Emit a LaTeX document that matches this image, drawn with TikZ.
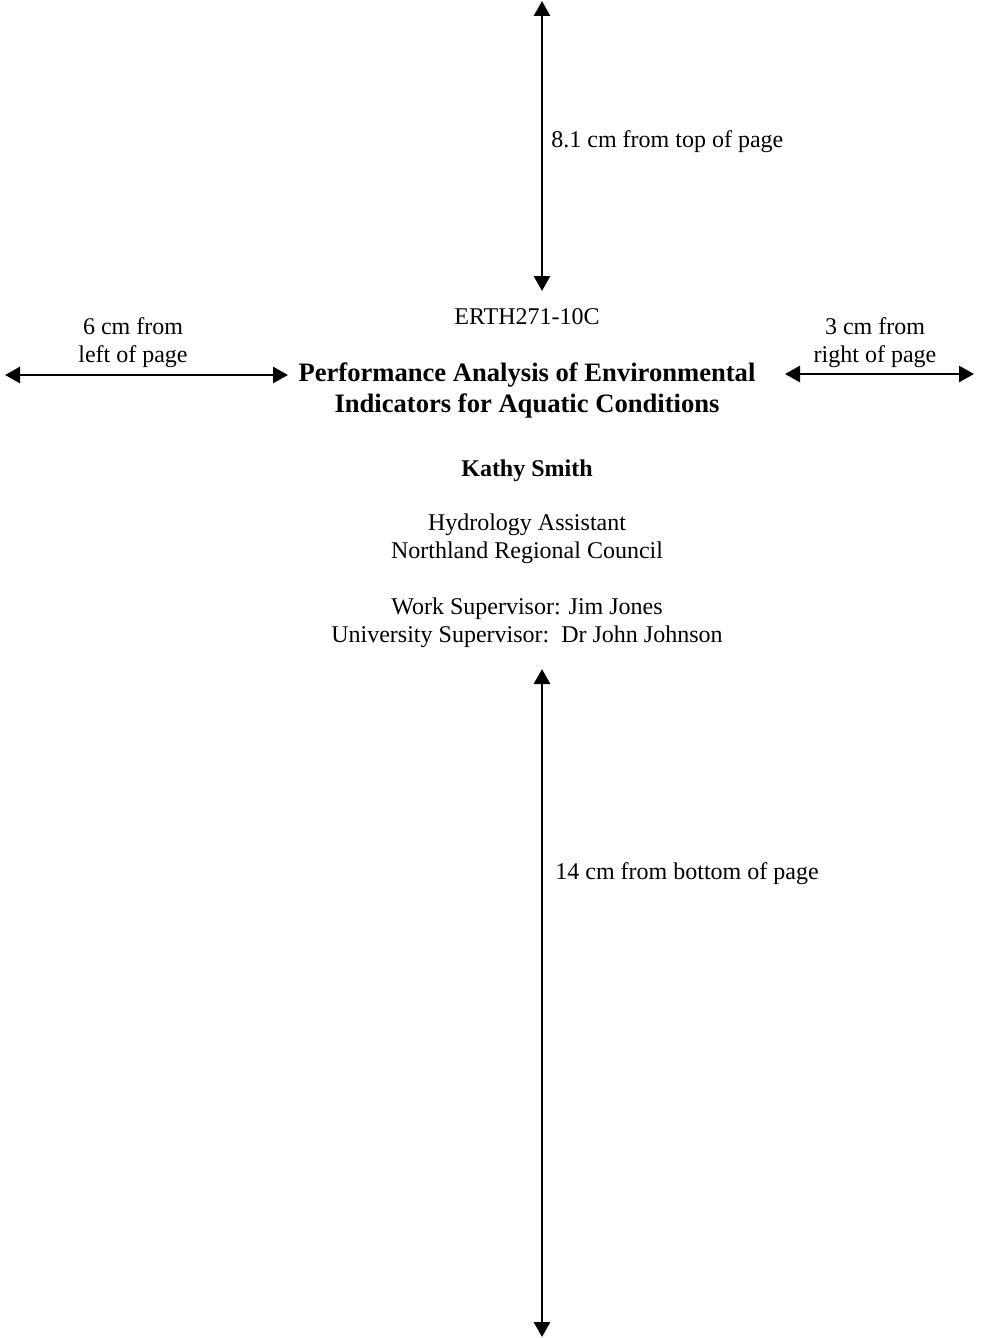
\documentclass[tikz,border=0pt]{standalone}
\usepackage{fontspec}
\setmainfont{Liberation Serif}
\usetikzlibrary{arrows.meta}
\begin{document}
\begin{tikzpicture}[x=0.5pt,y=-0.5pt,
  txt/.style={inner sep=0pt,font=\fontsize{12}{14}\selectfont,align=center},
  ttl/.style={txt,font=\fontsize{13.3}{15.5}\selectfont\bfseries},
  nm/.style={txt,font=\fontsize{12}{14}\selectfont\bfseries},
  dim/.style={line width=1.4pt,{Triangle[length=7.5pt,width=8pt]}-{Triangle[length=7.5pt,width=8pt]}}]
\useasboundingbox (0,0) rectangle (980,1338);
% vertical top
\coordinate (t1) at (542,1);
\coordinate (t2) at (542,291);
\draw[dim] (t1) -- (t2);
\node[txt,anchor=west] (ltop) at (551,142) {8.1 cm from top of page};
% code
\node[txt] (code) at (527,317) {ERTH271-10C};
% left
\coordinate (l1) at (5,375);
\coordinate (l2) at (288,375);
\draw[dim] (l1) -- (l2);
\node[txt] (lleft) at (133,343) {6 cm from\\left of page};
% right
\coordinate (r1) at (785,374);
\coordinate (r2) at (974,374);
\draw[dim] (r1) -- (r2);
\node[txt] (lright) at (875,343) {3 cm from\\right of page};
% title
\node[ttl] (title) at (527,390) {Performance Analysis of Environmental\\Indicators for Aquatic Conditions};
\node[nm] (name) at (527,471) {Kathy Smith};
\node[txt] (job) at (527,539) {Hydrology Assistant\\Northland Regional Council};
\node[txt] (sup) at (527,622.5) {Work Supervisor: Jim Jones\\University Supervisor:\ \ Dr John Johnson};
% bottom
\coordinate (b1) at (542,669);
\coordinate (b2) at (542,1337);
\draw[dim] (b1) -- (b2);
\node[txt,anchor=west] (lbot) at (555,874) {14 cm from bottom of page};
\end{tikzpicture}
\end{document}
